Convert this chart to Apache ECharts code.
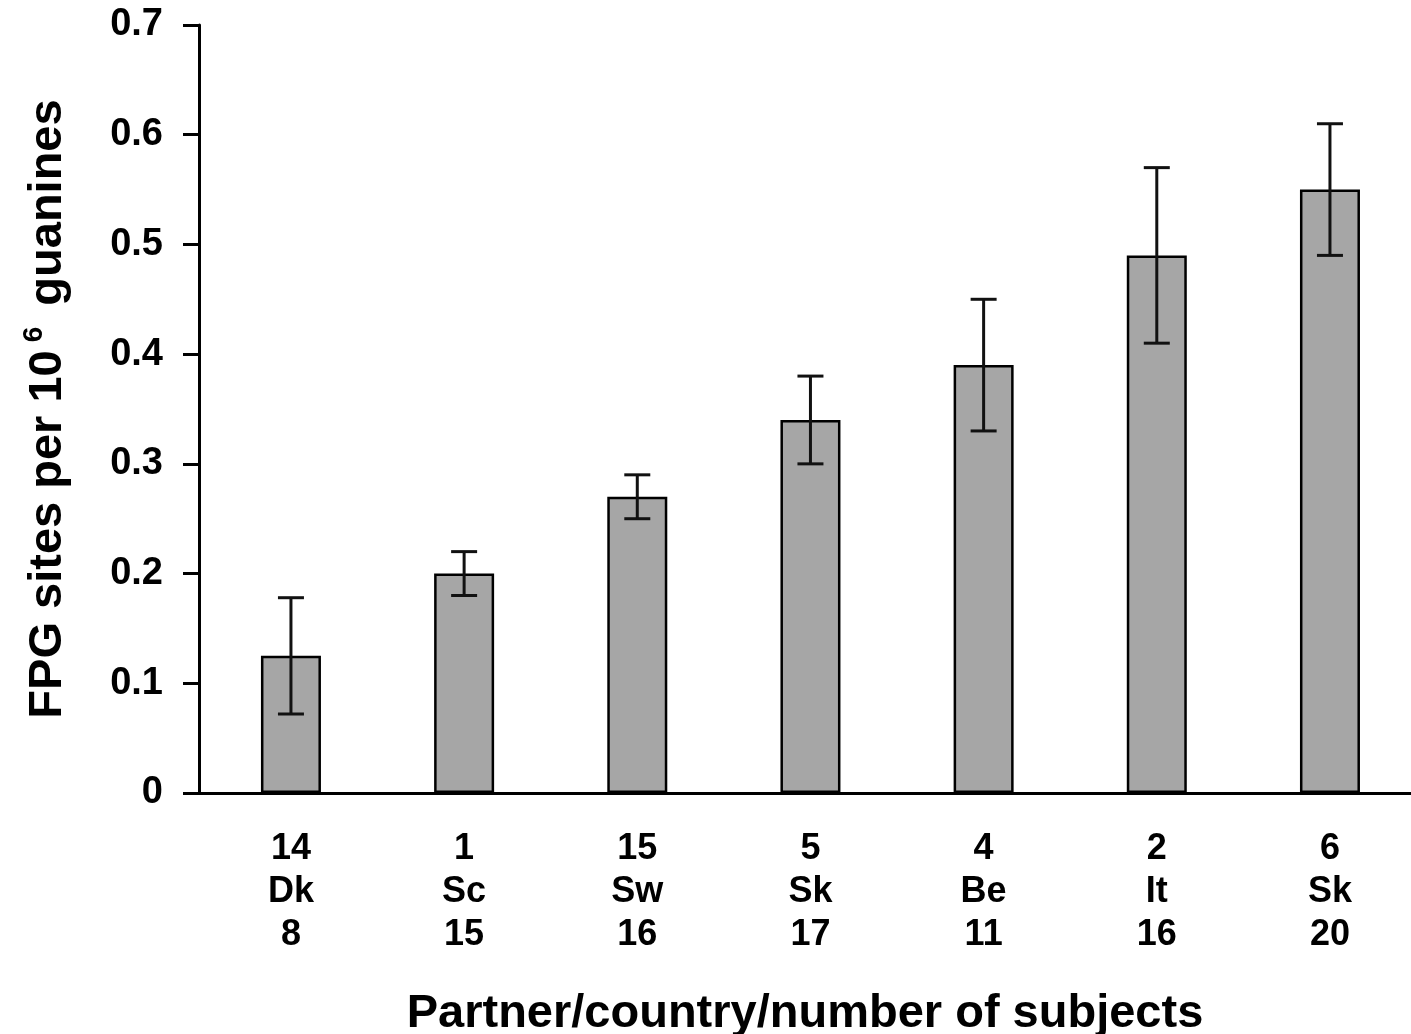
<!DOCTYPE html>
<html>
<head>
<meta charset="utf-8">
<script src="https://cdn.jsdelivr.net/npm/echarts@6/dist/echarts.min.js"></script>
<style>
html,body{margin:0;padding:0;background:#fff;}
#chart{width:1411px;height:1034px;}
</style>
</head>
<body>
<div id="chart"></div>
<script>
// ---- data ----
var partners  = ['14', '1', '15', '5', '4', '2', '6'];
var countries = ['Dk', 'Sc', 'Sw', 'Sk', 'Be', 'It', 'Sk'];
var subjects  = ['8', '15', '16', '17', '11', '16', '20'];
var means     = [0.125, 0.200, 0.270, 0.340, 0.390, 0.490, 0.550];
var errLow    = [0.072, 0.180, 0.250, 0.300, 0.330, 0.410, 0.490];
var errHigh   = [0.178, 0.220, 0.290, 0.380, 0.450, 0.570, 0.610];
var yTicks    = [0, 0.1, 0.2, 0.3, 0.4, 0.5, 0.6, 0.7];

var FONT = '"Liberation Sans", Arial, Helvetica, sans-serif';
var idx = partners.map(function (_, i) { return i; });

var barData = means.map(function (v, i) { return [i, v]; });
var errData = means.map(function (v, i) { return [i, errLow[i], errHigh[i]]; });

var chart = echarts.init(document.getElementById('chart'), null, {renderer: 'canvas'});
chart.setOption({
  animation: false,
  backgroundColor: '#ffffff',
  grid: {left: 199, right: 0, top: 25, bottom: 241, containLabel: false, outerBoundsMode: 'none'},
  xAxis: {
    type: 'value',
    min: -0.531,
    max: 6.468,
    splitLine: {show: false},
    axisLine: {show: true, onZero: false, lineStyle: {color: '#000', width: 3}},
    axisTick: {show: false},
    axisLabel: {
      show: true,
      customValues: idx,
      margin: 35,
      fontFamily: FONT,
      fontWeight: 'bold',
      fontSize: 36,
      lineHeight: 43,
      color: '#000',
      formatter: function (v) {
        var i = Math.round(v);
        return partners[i] + '\n' + countries[i] + '\n' + subjects[i];
      }
    },
    name: 'Partner/country/number of subjects',
    nameLocation: 'middle',
    nameGap: 198,
    nameTextStyle: {fontFamily: FONT, fontWeight: 'bold', fontSize: 47, color: '#000'}
  },
  yAxis: {
    type: 'value',
    min: 0,
    max: 0.7,
    interval: 0.1,
    splitLine: {show: false},
    axisLine: {show: true, onZero: false, lineStyle: {color: '#000', width: 3}},
    axisTick: {show: true, length: 16, lineStyle: {color: '#000', width: 3}},
    axisLabel: {
      margin: 36,
      fontFamily: FONT,
      fontWeight: 'bold',
      fontSize: 38,
      color: '#000',
      formatter: function (v) {
        var r = Math.round(v * 10) / 10;
        return yTicks.indexOf(r) >= 0 ? String(r) : '';
      }
    },
    name: '{a|FPG sites per 10}{sup|6}{a| guanines}',
    nameLocation: 'middle',
    nameGap: 123,
    nameTextStyle: {
      fontFamily: FONT, fontWeight: 'bold', fontSize: 47, color: '#000',
      rich: {
        a: {fontFamily: FONT, fontWeight: 'bold', fontSize: 47, color: '#000', lineHeight: 56},
        sup: {fontFamily: FONT, fontWeight: 'bold', fontSize: 28, color: '#000', lineHeight: 56,
              verticalAlign: 'top', padding: [0, 8, 0, 8]}
      }
    }
  },
  series: [
    {
      type: 'bar',
      data: barData,
      barWidth: 60,
      itemStyle: {color: '#a6a6a6', borderColor: '#000', borderWidth: 2.5},
      z: 2
    },
    {
      type: 'custom',
      data: errData,
      z: 5,
      renderItem: function (params, api) {
        var x = api.value(0);
        var lo = api.coord([x, api.value(1)]);
        var hi = api.coord([x, api.value(2)]);
        var half = 13;
        var st = {stroke: '#111', lineWidth: 3};
        return {
          type: 'group',
          children: [
            {type: 'line', shape: {x1: lo[0], y1: lo[1], x2: hi[0], y2: hi[1]}, style: st},
            {type: 'line', shape: {x1: lo[0] - half, y1: lo[1], x2: lo[0] + half, y2: lo[1]}, style: st},
            {type: 'line', shape: {x1: hi[0] - half, y1: hi[1], x2: hi[0] + half, y2: hi[1]}, style: st}
          ]
        };
      }
    }
  ]
});
</script>
</body>
</html>
